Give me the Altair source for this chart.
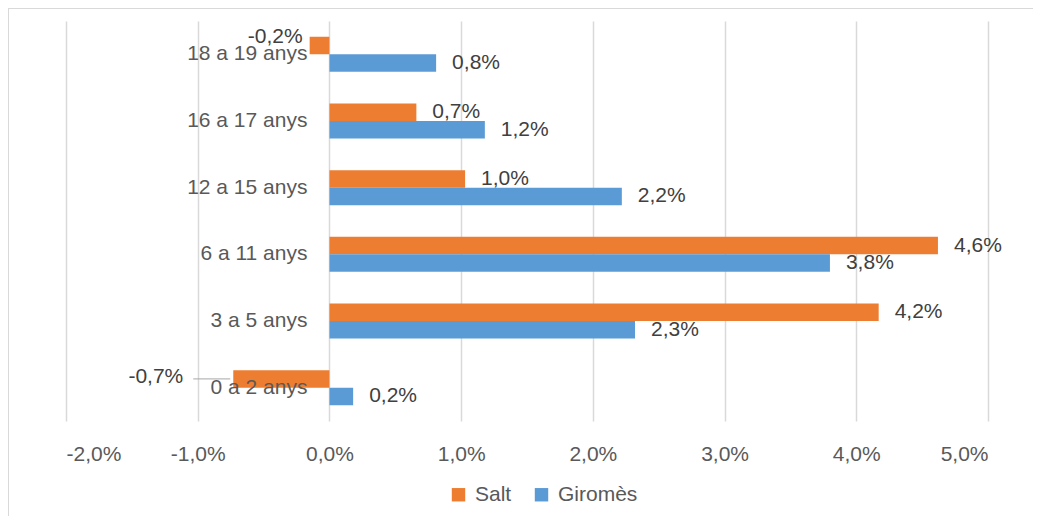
import altair as alt
import pandas as pd

categories = ["18 a 19 anys", "16 a 17 anys", "12 a 15 anys", "6 a 11 anys", "3 a 5 anys", "0 a 2 anys"]
salt = [-0.15, 0.66, 1.03, 4.62, 4.17, -0.73]
salt_labels = ["-0,2%", "0,7%", "1,0%", "4,6%", "4,2%", "-0,7%"]
giromes = [0.81, 1.18, 2.22, 3.80, 2.32, 0.18]
giromes_labels = ["0,8%", "1,2%", "2,2%", "3,8%", "2,3%", "0,2%"]
series = ["Salt", "Giromès"]
colors = ["#ED7D31", "#5B9BD5"]
x_ticks = [-2, -1, 0, 1, 2, 3, 4, 5]

rows = []
for c, v, l in zip(categories, salt, salt_labels):
    rows.append({"cat": c, "serie": "Salt", "val": v, "lab": l})
for c, v, l in zip(categories, giromes, giromes_labels):
    rows.append({"cat": c, "serie": "Giromès", "val": v, "lab": l})
df = pd.DataFrame(rows)
cats_df = pd.DataFrame({"cat": categories, "zero": [0] * len(categories)})

FONT = "Liberation Sans"
FS = 21

xscale = alt.Scale(domain=[-2, 5], nice=False, zero=False)
yscale = alt.Scale(domain=categories, paddingInner=0.475, paddingOuter=0.2375)
yoff = alt.YOffset("serie:N", sort=series, scale=alt.Scale(domain=series, paddingInner=0, paddingOuter=0))

base = alt.Chart(df)

bars = base.mark_bar().encode(
    x=alt.X("val:Q", scale=xscale, title=None,
            axis=alt.Axis(values=x_ticks, grid=True, gridColor="#D9D9D9", gridWidth=1.5,
                          domain=False, ticks=False, labelFont=FONT, labelFontSize=FS,
                          labelColor="#595959", labelPadding=22,
                          labelExpr="replace(replace(format(datum.value, '.1f'), '.', ','), '\u2212', '-') + '%'")),
    x2=alt.datum(0),
    y=alt.Y("cat:N", scale=yscale, axis=None, sort=categories),
    yOffset=yoff,
    color=alt.Color("serie:N", scale=alt.Scale(domain=series, range=colors), title=None,
                    legend=alt.Legend(orient="none", legendX=382, legendY=463, direction="horizontal",
                                      symbolType="square", symbolSize=180, symbolStrokeWidth=0,
                                      labelFont=FONT, labelFontSize=FS, labelColor="#595959",
                                      labelOffset=6, columnPadding=19, padding=0)),
)

pos = base.transform_filter("datum.val >= 0").mark_text(
    align="left", baseline="middle", dx=16, font=FONT, fontSize=FS, color="#404040"
).encode(x=alt.X("val:Q", scale=xscale), y=alt.Y("cat:N", scale=yscale, sort=categories),
         yOffset=yoff, text="lab:N")

neg1 = base.transform_filter("datum.val < 0 && datum.cat == '18 a 19 anys'").mark_text(
    align="right", baseline="middle", dx=-7, dy=-9, font=FONT, fontSize=FS, color="#404040"
).encode(x=alt.X("val:Q", scale=xscale), y=alt.Y("cat:N", scale=yscale, sort=categories),
         yOffset=yoff, text="lab:N")

neg2 = base.transform_filter("datum.val < 0 && datum.cat == '0 a 2 anys'").mark_text(
    align="right", baseline="middle", dx=-50, dy=-2, font=FONT, fontSize=FS, color="#404040"
).encode(x=alt.X("val:Q", scale=xscale), y=alt.Y("cat:N", scale=yscale, sort=categories),
         yOffset=yoff, text="lab:N")

leader = base.transform_filter("datum.val < 0 && datum.cat == '0 a 2 anys'").mark_rule(
    color="#A6A6A6", strokeWidth=1, xOffset=-40, x2Offset=-3, yOffset=-1
).encode(x=alt.X("val:Q", scale=xscale), x2="val:Q",
         y=alt.Y("cat:N", scale=yscale, sort=categories), yOffset=yoff)

cat_labels = alt.Chart(cats_df).mark_text(
    align="right", baseline="middle", dx=-22, font=FONT, fontSize=FS, color="#595959"
).encode(x=alt.X("zero:Q", scale=xscale), y=alt.Y("cat:N", scale=yscale, sort=categories),
         text="cat:N")

border_left = alt.Chart(cats_df).mark_rule(stroke="#D9D9D9", strokeWidth=1.5).encode(
    x=alt.value(-58), y=alt.value(-13), y2=alt.value(600)
)
border_top = alt.Chart(cats_df).mark_rule(stroke="#D9D9D9", strokeWidth=1.5).encode(
    x=alt.value(-58), x2=alt.value(1100), y=alt.value(-13)
)

chart = alt.layer(border_left, border_top, bars, pos, neg1, neg2, leader, cat_labels).properties(
    width=922, height=400,
    autosize=alt.AutoSizeParams(type="none"),
    padding={"left": 58, "top": 13, "right": 45, "bottom": 95},
).configure_view(stroke=None).resolve_scale(x="shared", y="shared")

chart.save("out.html", embed_options={"renderer": "svg", "actions": False})
